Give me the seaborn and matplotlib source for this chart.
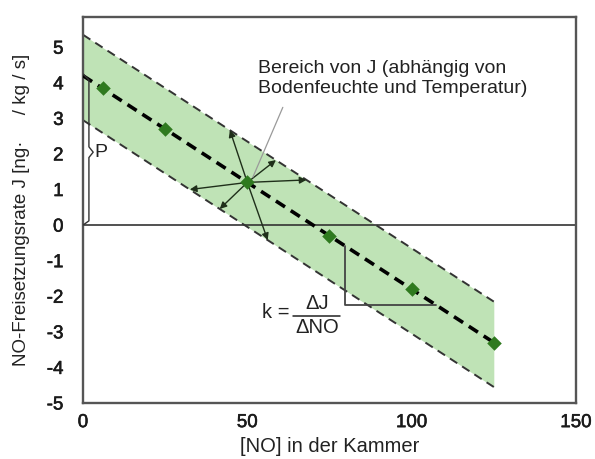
import numpy as np
import pandas as pd
import matplotlib
matplotlib.use("Agg")
import matplotlib.pyplot as plt
import matplotlib.patheffects as pe
import seaborn as sns

# Measured NO release rate at different chamber concentrations
no_conc = [6, 25, 50, 75, 100, 125]
release_rate = [3.84, 2.7, 1.2, -0.3, -1.8, -3.3]

# Spread of J around the regression line (upper / lower offset)
band_upper = 1.15
band_lower = 1.25

x_ticks = [0, 50, 100, 150]
y_ticks = [-5, -4, -3, -2, -1, 0, 1, 2, 3, 4, 5]

# Arrow tips from the central point to the band edges (x position, edge)
arrow_tip_x = [44.7, 58.7, 68.0, 56.2, 41.6, 32.5]
arrow_tip_edge = ["upper", "upper", "upper", "lower", "lower", "lower"]

sns.set_theme(style="white")
plt.rcParams["font.family"] = ["Liberation Sans", "DejaVu Sans"]

fig = plt.figure(figsize=(5.95, 4.59), dpi=100)
ax = fig.add_axes([0.1395, 0.122, 0.8285, 0.841])

df = pd.DataFrame({"NO": no_conc, "J": release_rate})
slope, intercept = np.polyfit(df["NO"], df["J"], 1)

xs = np.array([0.0, max(no_conc)])
center = intercept + slope * xs
upper = center + band_upper
lower = center - band_lower

ax.fill_between(xs, lower, upper, color="#bfe3b6", lw=0, zorder=1)
ax.plot(xs, upper, ls=(0, (4.5, 3)), color="#333333", lw=1.4, zorder=2)
ax.plot(xs, lower, ls=(0, (4.5, 3)), color="#333333", lw=1.4, zorder=2)

line_df = pd.DataFrame({"NO": xs, "J": center})
sns.lineplot(data=line_df, x="NO", y="J", ax=ax, color="black", lw=2.6,
             linestyle=(0, (3.0, 1.9)), zorder=3)

# zero line
ax.axhline(0, color="#333333", lw=1.2, zorder=2)

# arrows spreading from the central point to the band edges
cx = no_conc[2]
cy = intercept + slope * cx
for tx, edge in zip(arrow_tip_x, arrow_tip_edge):
    ty = intercept + slope * tx + (band_upper if edge == "upper" else -band_lower)
    ax.annotate("", xy=(tx, ty), xytext=(cx, cy),
                arrowprops=dict(arrowstyle="-|>", color="#1f2f1a", lw=1.0,
                                mutation_scale=10, shrinkA=0, shrinkB=0),
                zorder=4)

sns.scatterplot(data=df, x="NO", y="J", ax=ax, marker="D", s=55,
                color="#2f7a1f", edgecolor="#2f7a1f", linewidth=0, zorder=5)

# leader line to the annotation text
ax.plot([60.8, 51.7], [3.31, 1.35], color="#9a9a9a", lw=0.9, zorder=4)
ax.text(53.4, 4.64, "Bereich von J (abhängig von\nBodenfeuchte und Temperatur)",
        fontsize=14, ha="left", va="top", linespacing=1.2, color="#222222")

# brace marking P (intercept)
bx = [0.0, 1.8, 1.8, 3.1, 1.8, 1.8, 0.0]
by = [intercept + 0.05, intercept - 0.12, 2.2, 2.05, 1.9, 0.12, 0.0]
ax.plot(bx, by, color="#333333", lw=1.0, zorder=4)
ax.text(3.6, 2.05, "P", fontsize=14, ha="left", va="center", color="#222222")

# slope triangle
tri_x0 = 79.6
tri_y = -2.25
tri_x1 = (tri_y - intercept) / slope
ax.plot([tri_x0, tri_x0, tri_x1],
        [intercept + slope * tri_x0, tri_y, tri_y],
        color="#444444", lw=1.3, zorder=4)

# k = ΔJ / ΔNO
ax.text(54.6, -2.47, "k =", fontsize=14.5, ha="left", va="center", color="#222222")
ax.text(71.2, -2.2, "ΔJ", fontsize=14.5, ha="center", va="center", color="#222222")
ax.text(71.2, -2.88, "ΔNO", fontsize=14.5, ha="center", va="center", color="#222222")
ax.plot([63.8, 78.3], [-2.56, -2.56], color="#222222", lw=1.1)

ax.set_xlim(0, 150)
ax.set_ylim(-5, 5.85)
ax.set_xticks(x_ticks)
ax.set_yticks(y_ticks)
ax.set_xticklabels([str(v) for v in x_ticks])
ax.set_yticklabels([str(v) for v in y_ticks])
ax.tick_params(axis="both", length=0, labelsize=13.5, colors="#1a1a1a")
ax.tick_params(axis="x", pad=8)
ax.tick_params(axis="y", pad=14)
for lab in ax.get_xticklabels() + ax.get_yticklabels():
    lab.set_path_effects([pe.withStroke(linewidth=0.4, foreground="#1a1a1a")])

ax.set_xlabel("[NO] in der Kammer", fontsize=14.5, color="#222222", labelpad=4)
ax.set_ylabel("NO-Freisetzungsrate J [ng·     / kg / s]", fontsize=13.5,
              color="#222222", labelpad=12)

for sp in ax.spines.values():
    sp.set_visible(True)
    sp.set_color("#555555")
    sp.set_linewidth(1.7)

fig.savefig("out.png", dpi=100)
